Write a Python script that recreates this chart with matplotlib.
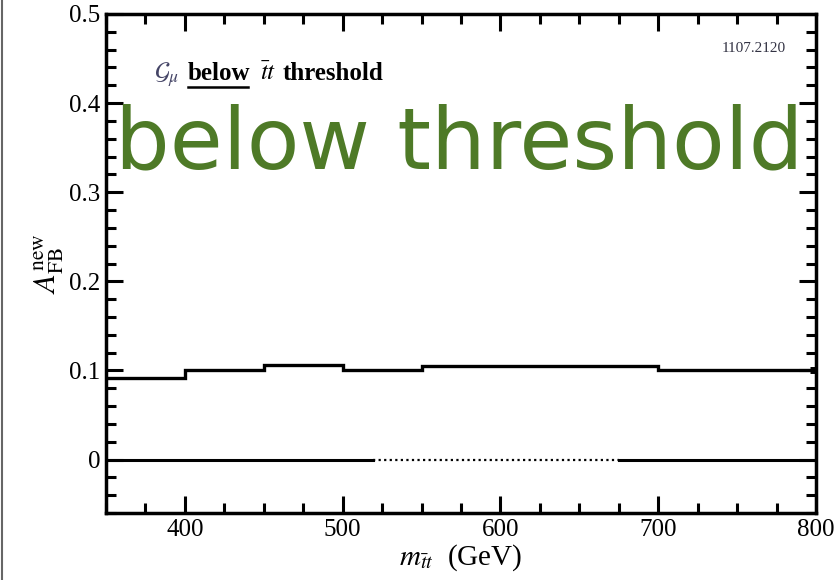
import numpy as np
import matplotlib.pyplot as plt
from matplotlib.ticker import MultipleLocator
from matplotlib.lines import Line2D

plt.rcParams['mathtext.fontset'] = 'stix'
plt.rcParams['font.family'] = 'Liberation Serif'

# bin edges in m_tt (GeV) and A_FB^new per bin
edges = [350, 400, 450, 500, 550, 700, 800]
afb_new = [0.091, 0.101, 0.106, 0.101, 0.105, 0.101]

# zero line: solid / dotted / solid pieces
zero_solid_1 = [350, 519]
zero_dotted = [519, 675]
zero_solid_2 = [675, 800]

fig = plt.figure(figsize=(8.39, 5.8), dpi=100)
ax = fig.add_axes([106 / 839, 1 - 513 / 580, 710 / 839, 499 / 580])

ax.stairs(afb_new, edges, color='black', lw=2.4, baseline=None)
ax.plot(zero_solid_1, [0, 0], color='black', lw=2.2)
ax.plot(zero_dotted, [0, 0], color='black', lw=1.6, ls=(0, (1, 1.5)))
ax.plot(zero_solid_2, [0, 0], color='black', lw=2.2)
ax.plot([796, 800], [0.101, 0.101], color='black', lw=5, solid_capstyle='butt')

ax.set_xlim(350, 800)
ax.set_ylim(-0.06, 0.5)
ax.set_xticks([400, 500, 600, 700, 800])
ax.xaxis.set_minor_locator(MultipleLocator(25))
ax.set_yticks([0, 0.1, 0.2, 0.3, 0.4, 0.5])
ax.set_yticklabels(['0', '0.1', '0.2', '0.3', '0.4', '0.5'])
ax.yaxis.set_minor_locator(MultipleLocator(0.02))
ax.tick_params(which='both', direction='in', top=True, right=True, width=2.2,
               labelsize=18, colors='black')
ax.tick_params(which='major', length=12.5, pad=4)
ax.tick_params(which='minor', length=7)
for s in ax.spines.values():
    s.set_linewidth(2.5)

ax.set_xlabel(r'$m_{\bar{t}t}$  (GeV)', fontsize=21, labelpad=1)
ax.set_ylabel(r'$A_{\mathrm{FB}}^{\mathrm{new}}$', fontsize=22, labelpad=2)

# in-plot caption, "below" underlined
ax.text(0.068, 0.868, r'$\mathcal{G}_\mu$', transform=ax.transAxes, fontsize=18,
        color='#444466', va='baseline')
ax.text(0.115, 0.868, 'below', transform=ax.transAxes, fontsize=18,
        weight='bold', va='baseline')
ax.plot([0.115, 0.2], [0.853, 0.853], transform=ax.transAxes, color='black',
        lw=1.8, clip_on=False)
ax.text(0.217, 0.868, r'$\bar{t}t$', transform=ax.transAxes, fontsize=18,
        va='baseline')
ax.text(0.249, 0.868, 'threshold', transform=ax.transAxes, fontsize=18,
        weight='bold', va='baseline')
ax.text(0.958, 0.93, '1107.2120', transform=ax.transAxes, fontsize=11,
        ha='right', va='center', color='#333344')

fig.text(0.547, 0.75, 'below threshold', fontsize=62, color='#4e7a27',
         family='DejaVu Sans', ha='center', va='center')

# thin frame on the left edge
fig.add_artist(Line2D([2 / 839, 2 / 839], [0, 1], transform=fig.transFigure,
                      color='#666666', lw=1.5))

fig.savefig('out.png', dpi=100)
